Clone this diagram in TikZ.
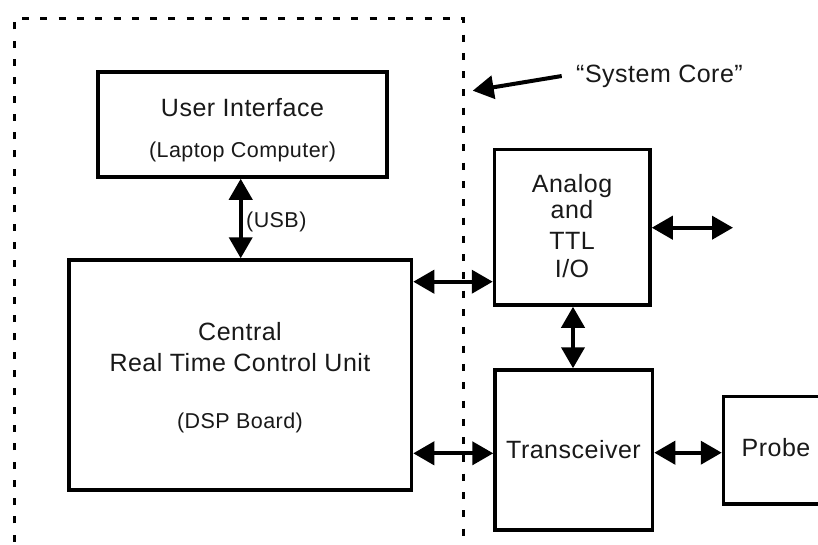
\documentclass[tikz,border=0pt]{standalone}
\usepackage{fontspec}
\setmainfont{Liberation Sans}[LetterSpace=2]
\usetikzlibrary{arrows.meta}
\begin{document}
\begin{tikzpicture}[x=1pt,y=-1pt,
  boxnode/.style={draw=black,line width=3.5pt,minimum width=#1,inner sep=0pt},
  bigtxt/.style={font=\fontsize{25}{29}\selectfont,inner sep=0pt,anchor=base,text=black!90},
  smalltxt/.style={font=\fontsize{21.5}{25}\selectfont,inner sep=0pt,anchor=base,text=black!90},
  dbl/.style={line width=4pt,{Triangle[length=21pt,width=23pt]}-{Triangle[length=21pt,width=23pt]}},
  sgl/.style={line width=4pt,-{Triangle[length=21pt,width=23pt]}},
  corebox/.style={draw=black,line width=3.5pt,dash pattern=on 7pt off 11.3pt}
]
\useasboundingbox (0,0) rectangle (818,544);
\clip (0,0) rectangle (818,544);
\fill[white] (0,0) rectangle (818,544);
% system core dashed boundary
\draw[corebox] (14.5,560) -- (14.5,18.5) -- (463.5,18.5) -- (463.5,560);
% boxes
\node[boxnode=289pt,minimum height=105pt] (ui) at (242.5,124.5) {};
\node[boxnode=342.5pt,minimum height=230pt] (cpu) at (240.25,375) {};
\node[boxnode=155.5pt,minimum height=155.5pt] (aio) at (572.25,227.25) {};
\node[boxnode=157.5pt,minimum height=160pt] (trx) at (573.75,450) {};
\node[boxnode=136.5pt,minimum height=107.5pt] (prb) at (791.75,450.25) {};
% texts
\node[bigtxt] (t1) at (242.5,116) {User Interface};
\node[smalltxt] (t2) at (242.5,157) {(Laptop Computer)};
\node[bigtxt] (t3) at (240,340) {Central};
\node[bigtxt] (t4) at (240,371) {Real Time Control Unit};
\node[smalltxt] (t5) at (240,428) {(DSP Board)};
\node[bigtxt] (t6) at (572,192) {Analog};
\node[bigtxt] (t7) at (572,218) {and};
\node[bigtxt] (t8) at (572,249) {TTL};
\node[bigtxt] (t9) at (572,277) {I/O};
\node[bigtxt] (t10) at (573.5,458) {Transceiver};
\node[bigtxt] (t11) at (776,456) {Probe};
\node[bigtxt] (core) at (659.5,82) {``System Core''};
\node[smalltxt,anchor=base west] (usb) at (246,227) {(USB)};
\coordinate (coretip) at (472.7,90.7);
\coordinate (coretail) at (561.7,76);
\coordinate (ext) at (733,227.7);
% connectors
\draw[dbl] (ui.south -| 240.7,0) -- (cpu.north -| 240.7,0);
\draw[dbl] (cpu.east |- 0,281.7) -- (aio.west |- 0,281.7);
\draw[dbl] (aio.east |- ext) -- (ext);
\draw[dbl] (aio.south -| 573,0) -- (trx.north -| 573,0);
\draw[dbl] (cpu.east |- 0,453.3) -- (trx.west |- 0,453.3);
\draw[dbl] (trx.east |- 0,452.7) -- (prb.west |- 0,452.7);
\draw[sgl] (coretail) -- (coretip);
\end{tikzpicture}
\end{document}
